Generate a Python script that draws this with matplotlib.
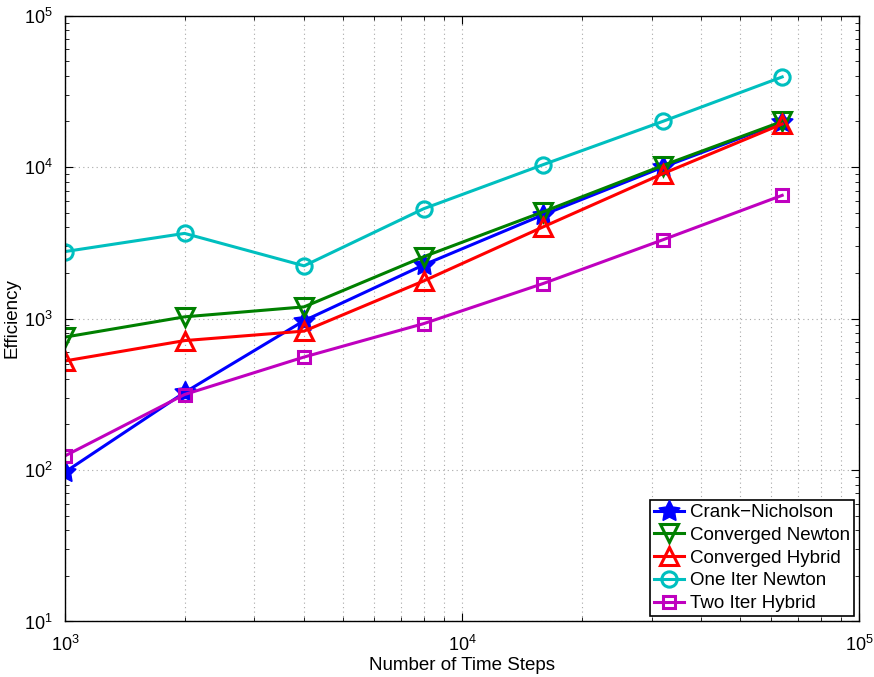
import matplotlib
matplotlib.use('Agg')
import matplotlib.pyplot as plt
from matplotlib.ticker import LogLocator, NullFormatter

plt.rcParams['font.family'] = ['Liberation Sans', 'DejaVu Sans']
plt.rcParams['mathtext.fontset'] = 'custom'
plt.rcParams['mathtext.rm'] = 'Liberation Sans'

steps = [1000, 2000, 4000, 8000, 16000, 32000, 64000]
crank_nicholson = [97, 325, 968, 2258, 4838, 9970, 19730]
converged_newton = [754, 1026, 1194, 2558, 5064, 10230, 20000]
converged_hybrid = [525, 715, 826, 1770, 4027, 9030, 19230]
one_iter_newton = [2767, 3648, 2228, 5306, 10370, 20000, 39350]
two_iter_hybrid = [124, 315, 557, 925, 1702, 3306, 6505]

fig = plt.figure(figsize=(8.74, 6.77), dpi=100)
ax = fig.add_axes([0.0744, 0.082, 0.9086, 0.895])

ax.loglog(steps, crank_nicholson, color='#0000ff', lw=2.2, marker=(5, 1, 0),
          ms=16, mfc='#0000ff', mec='#0000ff', label='Crank\u2212Nicholson')
ax.loglog(steps, converged_newton, color='#008000', lw=2.2, marker='v',
          ms=13, mfc='none', mew=2.2, label='Converged Newton')
ax.loglog(steps, converged_hybrid, color='#ff0000', lw=2.2, marker='^',
          ms=13, mfc='none', mew=2.2, label='Converged Hybrid')
ax.loglog(steps, one_iter_newton, color='#00bfbf', lw=2.2, marker='o',
          ms=11, mfc='none', mew=2.2, label='One Iter Newton')
ax.loglog(steps, two_iter_hybrid, color='#bf00bf', lw=2.2, marker='s',
          ms=9, mfc='none', mew=2.2, label='Two Iter Hybrid')

ax.set_xlim(1e3, 1e5)
ax.set_ylim(1e1, 1e5)
ax.xaxis.set_major_locator(LogLocator(base=10, numticks=10))
ax.yaxis.set_major_locator(LogLocator(base=10, numticks=10))
ax.xaxis.set_minor_locator(LogLocator(base=10, subs=range(2, 10), numticks=20))
ax.yaxis.set_minor_locator(LogLocator(base=10, subs=range(2, 10), numticks=20))
ax.xaxis.set_minor_formatter(NullFormatter())
ax.yaxis.set_minor_formatter(NullFormatter())

ax.grid(True, which='major', color='#a8a8a8', linestyle=(0, (1, 3)), linewidth=0.8)
ax.grid(True, which='minor', axis='x', color='#a8a8a8', linestyle=(0, (1, 3)), linewidth=0.8)
ax.tick_params(which='both', direction='in', top=True, right=True, labelsize=13)
ax.tick_params(axis='x', which='major', pad=10)
ax.tick_params(axis='y', which='major', pad=9)
ax.tick_params(which='major', length=6)
ax.tick_params(which='minor', length=3)
for s in ax.spines.values():
    s.set_linewidth(1.0)

ax.set_xlabel('Number of Time Steps', fontsize=13.5, labelpad=1)
ax.set_ylabel('Efficiency', fontsize=13.5, labelpad=2)

leg = ax.legend(loc='lower right', fontsize=13.5, fancybox=False, framealpha=1,
                edgecolor='black', borderpad=0.2, labelspacing=0.3,
                handlelength=1.6, handletextpad=0.3, borderaxespad=0.3)
leg.get_frame().set_linewidth(1.2)

fig.savefig('out.png', dpi=100)
